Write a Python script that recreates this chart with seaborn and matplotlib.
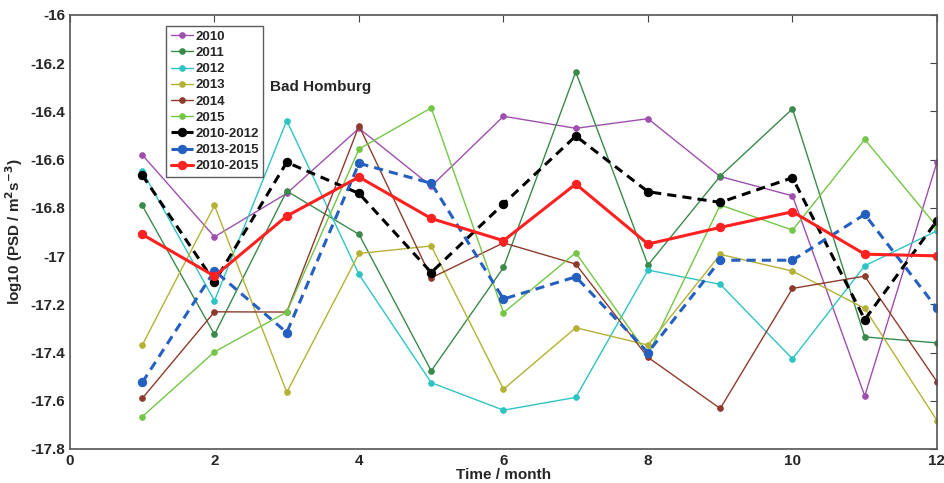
import seaborn as sns
import matplotlib.pyplot as plt
import pandas as pd

sns.set_style("white")
plt.rcParams['font.family'] = ['Liberation Sans', 'DejaVu Sans']
plt.rcParams['font.weight'] = 'bold'

months = list(range(1, 13))

psd_2010 = [-16.58, -16.92, -16.74, -16.47, -16.71, -16.42, -16.47, -16.43, -16.67, -16.75, -17.58, -16.61]
psd_2011 = [-16.79, -17.325, -16.73, -16.91, -17.476, -17.047, -16.236, -17.037, -16.668, -16.389, -17.335, -17.36]
psd_2012 = [-16.647, -17.185, -16.438, -17.076, -17.525, -17.639, -17.586, -17.058, -17.117, -17.426, -17.04, -16.895]
psd_2013 = [-17.369, -16.79, -17.565, -16.989, -16.958, -17.552, -17.297, -17.369, -16.993, -17.062, -17.217, -17.682]
psd_2014 = [-17.59, -17.231, -17.232, -16.46, -17.09, -16.945, -17.033, -17.42, -17.632, -17.134, -17.083, -17.521]
psd_2015 = [-17.666, -17.397, -17.232, -16.556, -16.385, -17.235, -16.986, -17.408, -16.788, -16.892, -16.516, -16.878]
mean_2010_2012 = [-16.664, -17.107, -16.611, -16.74, -17.068, -16.783, -16.502, -16.733, -16.777, -16.675, -17.263, -16.853]
mean_2013_2015 = [-17.524, -17.061, -17.317, -16.615, -16.698, -17.178, -17.086, -17.4, -17.017, -17.017, -16.827, -17.217]
mean_2010_2015 = [-16.91, -17.083, -16.834, -16.672, -16.844, -16.936, -16.701, -16.95, -16.881, -16.816, -16.992, -16.999]

series = [
    ("2010", psd_2010, "#9e4fae", "-", 1.0, 4),
    ("2011", psd_2011, "#3a8a4c", "-", 1.0, 4),
    ("2012", psd_2012, "#2fc4c4", "-", 1.0, 4),
    ("2013", psd_2013, "#b4b234", "-", 1.0, 4),
    ("2014", psd_2014, "#8e3b2c", "-", 1.0, 4),
    ("2015", psd_2015, "#74c646", "-", 1.0, 4),
    ("2010-2012", mean_2010_2012, "black", (0, (3, 2)), 2.2, 6),
    ("2013-2015", mean_2013_2015, "#2560c0", (0, (3, 2)), 2.2, 6),
    ("2010-2015", mean_2010_2015, "#ff2020", "-", 2.2, 6),
]

fig = plt.figure(figsize=(9.45, 4.83), dpi=100)
ax = fig.add_axes([70 / 945, 1 - 449 / 483, 867 / 945, 434 / 483])

for name, vals, color, ls, lw, ms in series:
    df = pd.DataFrame({"month": months, "psd": vals})
    sns.lineplot(data=df, x="month", y="psd", ax=ax, color=color, linestyle=ls,
                 linewidth=lw, marker="o", markersize=ms, markeredgecolor=color,
                 label=name)

ax.set_xlim(0, 12)
ax.set_ylim(-17.8, -16)
ax.set_xticks(range(0, 13, 2))
ax.set_yticks([-17.8, -17.6, -17.4, -17.2, -17, -16.8, -16.6, -16.4, -16.2, -16])
ax.set_yticklabels(["-17.8", "-17.6", "-17.4", "-17.2", "-17", "-16.8", "-16.6", "-16.4", "-16.2", "-16"])
ax.tick_params(direction="in", top=True, right=True, length=5, labelsize=11, color="#444444")
for lab in ax.get_xticklabels() + ax.get_yticklabels():
    lab.set_fontweight("bold")
for sp in ax.spines.values():
    sp.set_color("#555555")
    sp.set_linewidth(1.2)

ax.set_xlabel("Time / month", fontsize=11, fontweight="bold", labelpad=0)
ax.set_ylabel("log10 (PSD / m$^\\mathbf{2}$s$^\\mathbf{-3}$)", fontsize=11, fontweight="bold")
ax.text(2.77, -16.3, "Bad Homburg", fontsize=11, fontweight="bold", va="center")

# legend box sits inside the axes, top-left
leg = ax.legend(loc="upper left", bbox_to_anchor=(96 / 867, 1 - 11 / 434), fontsize=9.5,
                frameon=True, fancybox=False, handlelength=1.7, handletextpad=0.15,
                labelspacing=0.3, borderpad=0.35, borderaxespad=0)
leg.get_frame().set_edgecolor("#333333")
leg.get_frame().set_linewidth(1.0)
for t in leg.get_texts():
    t.set_fontweight("bold")

plt.savefig("out.png", dpi=100)
